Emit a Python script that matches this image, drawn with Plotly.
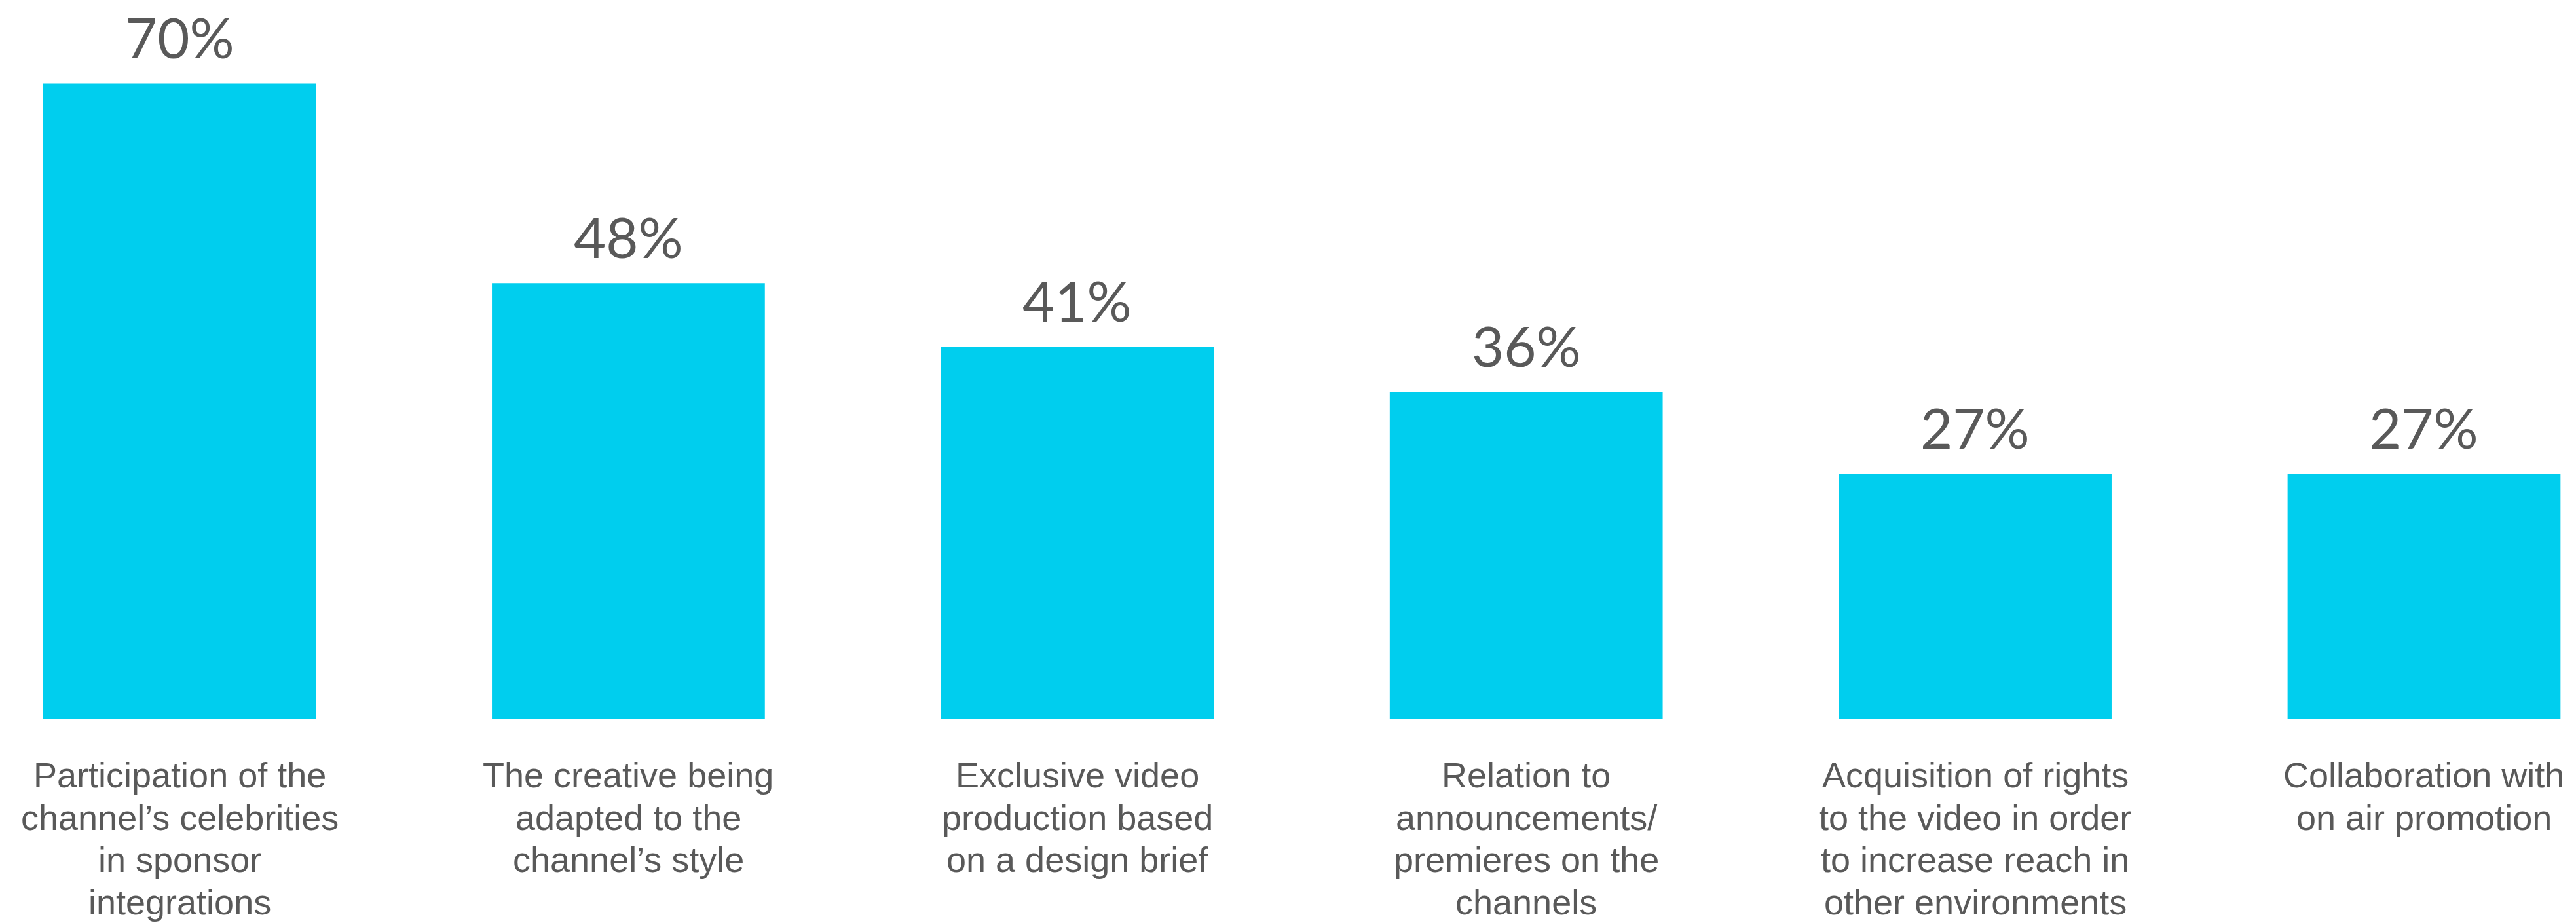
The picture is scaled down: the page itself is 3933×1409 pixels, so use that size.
import plotly.graph_objects as go

# Survey results: share of respondents naming each option
categories = [
    "Participation of the<br>channel’s celebrities<br>in sponsor<br>integrations",
    "The creative being<br>adapted to the<br>channel’s style",
    "Exclusive video<br>production based<br>on a design brief",
    "Relation to<br>announcements/<br>premieres on the<br>channels",
    "Acquisition of rights<br>to the video in order<br>to increase reach in<br>other environments",
    "Collaboration with<br>on air promotion",
]
values = [70, 48, 41, 36, 27, 27]

BAR_COLOR = "#00CEEE"
TEXT_COLOR = "#595959"
LABEL_FONT = "Liberation Sans, Arial, sans-serif"
VALUE_FONT = "Lato, Open Sans, sans-serif"

positions = list(range(len(categories)))

fig = go.Figure(
    go.Bar(
        x=positions,
        y=values,
        width=0.608,
        marker=dict(color=BAR_COLOR, line=dict(width=0)),
        hoverinfo="skip",
    )
)

annotations = []
# value labels above each bar
for pos, val in zip(positions, values):
    annotations.append(dict(
        x=pos, y=val, xref="x", yref="y",
        text=f"{val}%", showarrow=False,
        yanchor="bottom", yshift=18,
        font=dict(family=VALUE_FONT, size=85, color=TEXT_COLOR),
    ))

# category captions under the bars, one annotation per line for tight leading
LINE_STEP = 64.5
for pos, cat in zip(positions, categories):
    for j, line in enumerate(cat.split("<br>")):
        annotations.append(dict(
            x=pos, y=0, xref="x", yref="y",
            text=line, showarrow=False,
            yanchor="top", yshift=-54 - j * LINE_STEP,
            font=dict(family=LABEL_FONT, size=54, color=TEXT_COLOR),
        ))

fig.update_layout(
    width=3933, height=1409,
    margin=dict(l=0, r=0, t=0, b=312),
    paper_bgcolor="white", plot_bgcolor="white",
    showlegend=False,
    annotations=annotations,
    xaxis=dict(range=[-0.3998, 5.3385], visible=False, fixedrange=True),
    yaxis=dict(range=[0, 79.2], visible=False, fixedrange=True),
)

fig.write_html("out.html")
